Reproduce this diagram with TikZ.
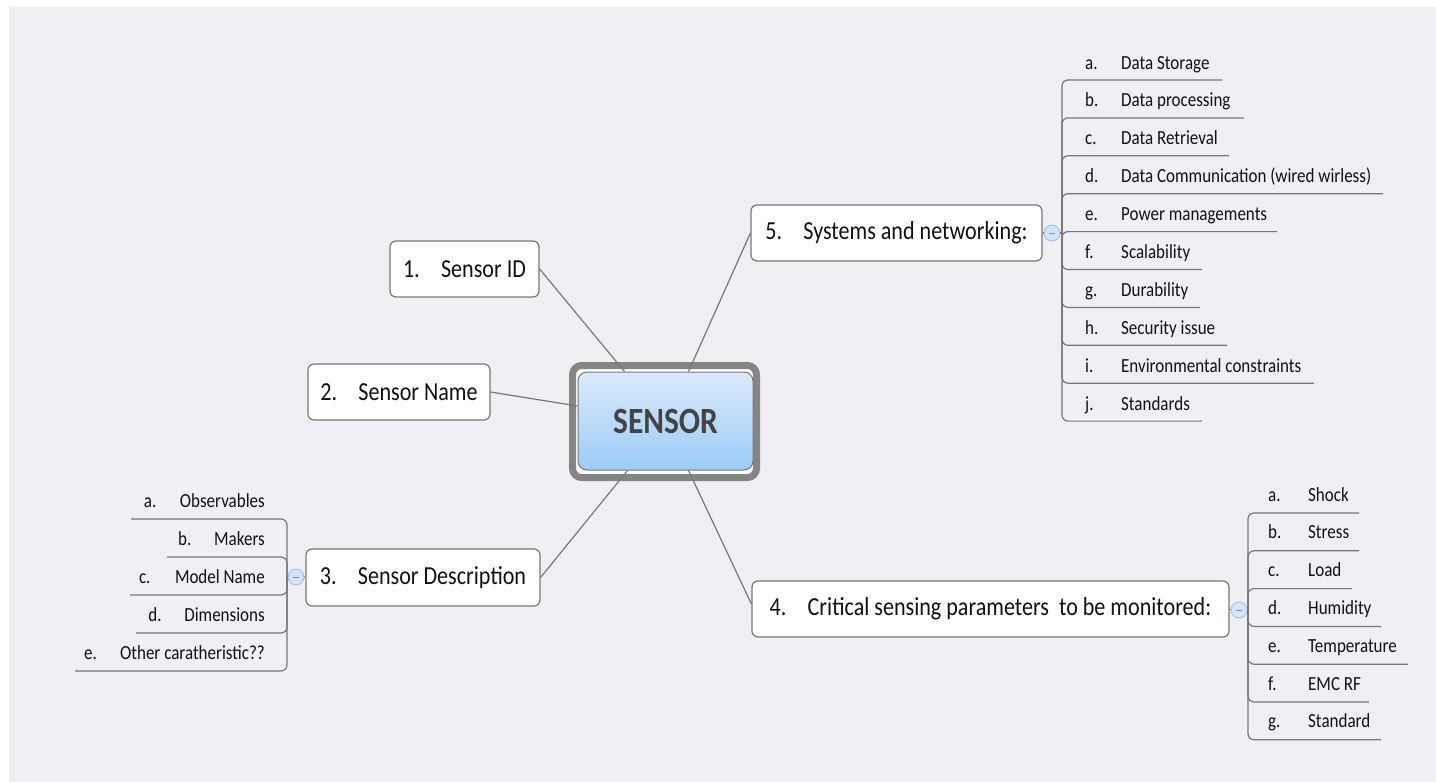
\documentclass[tikz,border=0pt]{standalone}
\usepackage{fontspec}
\setmainfont[FakeStretch=0.85]{Carlito}
\usetikzlibrary{calc}
\definecolor{bg}{HTML}{F0EFF4}
\definecolor{ln}{HTML}{777777}
\definecolor{txt}{HTML}{111111}
\definecolor{sens}{HTML}{444444}
\definecolor{stop}{HTML}{DCEAFA}
\definecolor{sbot}{HTML}{9BCBF8}
\definecolor{cfill}{HTML}{D5E4F8}
\definecolor{cdraw}{HTML}{A4C0EA}
\definecolor{cminus}{HTML}{7A8FB5}
\begin{document}
\begin{tikzpicture}[x=1pt,y=-1pt,
  topic/.style={draw=ln, line width=1.2pt, rounded corners=6pt, fill=white, inner sep=0pt,
    text=txt, font=\fontsize{26}{26}\selectfont, minimum height=56pt},
  sub/.style={inner sep=0pt, text=txt, font=\fontsize{20}{20}\selectfont},
  conn/.style={draw=ln, line width=1.2pt},
  br/.style={draw=ln, line width=1.2pt, rounded corners=6pt},
  coll/.style={circle, draw=cdraw, fill=cfill, line width=0.9pt, minimum size=16pt, inner sep=0pt}]
\useasboundingbox (0,0) rectangle (1436,782);
\fill[bg] (9,7) rectangle (1436,782);

% central topic
\node[draw=ln!90, line width=7pt, rounded corners=9pt, fill=white, minimum width=184pt, minimum height=112pt, inner sep=0pt] (outer) at (664.5,421.5) {};
\node[draw=ln, line width=1pt, rounded corners=9pt, top color=stop, bottom color=sbot,
  minimum width=175pt, minimum height=98pt, inner sep=0pt, text=sens,
  font=\fontsize{37}{37}\selectfont\bfseries] (in) at (665.5,421) {SENSOR};

% main topics
\node[topic, minimum width=149pt] (n1) at (464.5,269) {\makebox[38pt][l]{1.}Sensor ID};
\node[topic, minimum width=182pt] (n2) at (399,392) {\makebox[38pt][l]{2.}Sensor Name};
\node[topic, minimum width=234pt, minimum height=57pt] (n3) at (423,577.5) {\makebox[38pt][l]{3.}Sensor Description};
\node[topic, minimum width=477pt] (n4) at (990.5,609) {\makebox[38pt][l]{4.}Critical sensing parameters\ \ to be monitored:};
\node[topic, minimum width=291pt] (n5) at (896.5,233) {\makebox[38pt][l]{5.}Systems and networking:};

% connectors to centre
\draw[conn] (n1.east) -- ([xshift=-41pt]in.north);
\draw[conn] (n2.east) -- ([yshift=15pt]in.west);
\draw[conn] (n3.east) -- ([xshift=-38pt]in.south);
\draw[conn] ([yshift=5pt]n4.west) -- ([xshift=23pt]in.south);
\draw[conn] (n5.west) -- ([xshift=23pt]in.north);

% collapse markers
\node[coll] (c5) at (1052,233) {};
\node[coll] (c4) at (1239,610) {};
\node[coll] (c3) at (296,577) {};
\foreach \c in {c5,c4,c3}{\draw[cminus, line width=1pt] ([xshift=-3pt]\c.center) -- ([xshift=3pt]\c.center);}
\coordinate (h5) at (1062,233);
\coordinate (h4) at (1248,610);
\coordinate (h3) at (287,577);
\draw[conn] (n5.east) -- (c5.west);
\draw[conn] (c5.east) -- (h5);
\draw[conn] (n4.east) -- (c4.west);
\draw[conn] (c4.east) -- (h4);
\draw[conn] (n3.west) -- (c3.east);
\draw[conn] (c3.west) -- (h3);

% subtopics of 5
\foreach \l/\t/\e [count=\i from 0] in {a./Data Storage/1222, b./Data processing/1244, c./Data Retrieval/1229, d./Data Communication (wired wirless)/1383, e./Power managements/1277, f./Scalability/1202, g./Durability/1200, h./Security issue/1227, i./Environmental constraints/1314, j./Standards/1202}{
  \pgfmathsetmacro\yu{80+37.9*\i}
  \node[sub, anchor=base west] (s5\i) at (1085,\yu-11) {\makebox[36pt][l]{\l}\t};
  \coordinate (u5\i) at (\e,\yu);
  \draw[br] (h5) |- (u5\i);
}

% subtopics of 4
\foreach \l/\t/\e [count=\i from 0] in {a./Shock/1359, b./Stress/1359, c./Load/1352, d./Humidity/1381, e./Temperature/1408, f./EMC RF/1369, g./Standard/1381}{
  \pgfmathsetmacro\yu{513+37.8*\i}
  \node[sub, anchor=base west] (s4\i) at (1268,\yu-12) {\makebox[40pt][l]{\l}\t};
  \coordinate (u4\i) at (\e,\yu);
  \draw[br] (h4) |- (u4\i);
}

% subtopics of 3
\foreach \l/\t/\s [count=\i from 0] in {a./Observables/131, b./Makers/167, c./Model Name/130, d./Dimensions/136, e./Other caratheristic??/75}{
  \pgfmathsetmacro\yu{519+38*\i}
  \node[sub, anchor=base east] (s3\i) at (265,\yu-12) {\makebox[36pt][l]{\l}\t};
  \coordinate (u3\i) at (\s,\yu);
  \draw[br] (h3) |- (u3\i);
}
\end{tikzpicture}
\end{document}
